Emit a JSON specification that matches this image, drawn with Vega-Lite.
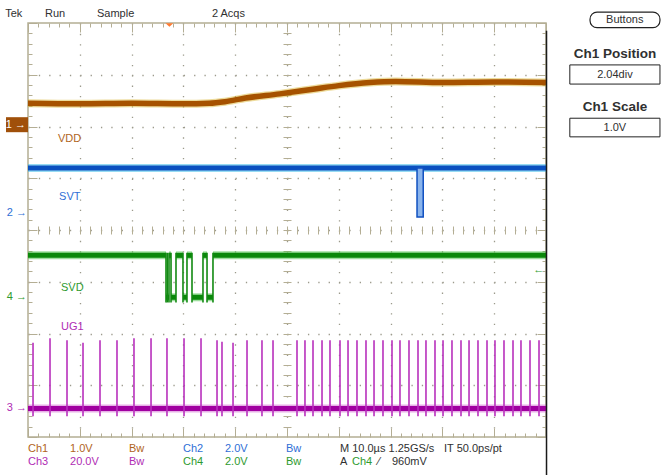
{
  "$schema": "https://vega.github.io/schema/vega-lite/v6.json",
  "width": 518,
  "height": 414,
  "autosize": {"type": "none"},
  "padding": {"left": 28, "top": 23, "right": 117, "bottom": 38},
  "background": "white",
  "config": {"view": {"stroke": "#b4ae94", "strokeWidth": 1.5}},
  "datasets": {
    "vdd": [
      {"x": 0, "y": 6.45}, {"x": 1, "y": 6.44}, {"x": 2, "y": 6.45}, {"x": 3, "y": 6.44},
      {"x": 3.5, "y": 6.45}, {"x": 3.8, "y": 6.48}, {"x": 4.2, "y": 6.55}, {"x": 4.86, "y": 6.63},
      {"x": 5.5, "y": 6.72}, {"x": 6.0, "y": 6.79}, {"x": 6.6, "y": 6.85}, {"x": 7.1, "y": 6.87},
      {"x": 8, "y": 6.85}, {"x": 9, "y": 6.86}, {"x": 10, "y": 6.85}
    ],
    "bands": [
      {"ch": "SVT", "x": 0, "x2": 10, "y": 5.2},
      {"ch": "UG1", "x": 0, "x2": 10, "y": 0.55},
      {"ch": "SVD", "x": 0, "x2": 2.664, "y": 3.51},
      {"ch": "SVD", "x": 2.664, "x2": 2.722, "y": 2.7},
      {"ch": "SVD", "x": 2.722, "x2": 2.761, "y": 3.51},
      {"ch": "SVD", "x": 2.761, "x2": 2.857, "y": 2.7},
      {"ch": "SVD", "x": 2.857, "x2": 2.992, "y": 3.51},
      {"ch": "SVD", "x": 2.992, "x2": 3.069, "y": 2.7},
      {"ch": "SVD", "x": 3.069, "x2": 3.166, "y": 3.51},
      {"ch": "SVD", "x": 3.166, "x2": 3.378, "y": 2.7},
      {"ch": "SVD", "x": 3.378, "x2": 3.456, "y": 3.51},
      {"ch": "SVD", "x": 3.456, "x2": 3.571, "y": 2.7},
      {"ch": "SVD", "x": 3.571, "x2": 10, "y": 3.51}
    ],
    "edges": [
      {"x": 2.664}, {"x": 2.69}, {"x": 2.722}, {"x": 2.761}, {"x": 2.857}, {"x": 2.992},
      {"x": 3.069}, {"x": 3.166}, {"x": 3.378}, {"x": 3.456}, {"x": 3.571}
    ],
    "spikes": [
      {"x": 0.097, "top": 1.82}, {"x": 0.425, "top": 1.91}, {"x": 0.753, "top": 1.87}, {"x": 1.062, "top": 1.82},
      {"x": 1.39, "top": 1.87}, {"x": 1.718, "top": 1.87}, {"x": 2.046, "top": 1.91}, {"x": 2.375, "top": 1.91},
      {"x": 2.683, "top": 1.91}, {"x": 3.012, "top": 1.91}, {"x": 3.34, "top": 1.91}, {"x": 3.649, "top": 1.87},
      {"x": 3.745, "top": 1.84}, {"x": 3.958, "top": 1.82}, {"x": 4.228, "top": 1.87}, {"x": 4.517, "top": 1.87},
      {"x": 4.73, "top": 1.87}, {"x": 5.193, "top": 1.87}, {"x": 5.347, "top": 1.87}, {"x": 5.502, "top": 1.87},
      {"x": 5.676, "top": 1.87}, {"x": 5.83, "top": 1.87}, {"x": 6.023, "top": 1.87}, {"x": 6.178, "top": 1.87},
      {"x": 6.351, "top": 1.87}, {"x": 6.525, "top": 1.87}, {"x": 6.68, "top": 1.87}, {"x": 6.853, "top": 1.87},
      {"x": 7.027, "top": 1.87}, {"x": 7.181, "top": 1.87}, {"x": 7.355, "top": 1.87}, {"x": 7.529, "top": 1.87},
      {"x": 7.683, "top": 1.87}, {"x": 7.857, "top": 1.87}, {"x": 8.012, "top": 1.87}, {"x": 8.185, "top": 1.87},
      {"x": 8.359, "top": 1.87}, {"x": 8.514, "top": 1.87}, {"x": 8.687, "top": 1.87}, {"x": 8.861, "top": 1.87},
      {"x": 9.015, "top": 1.87}, {"x": 9.189, "top": 1.87}, {"x": 9.363, "top": 1.87}, {"x": 9.517, "top": 1.87},
      {"x": 9.691, "top": 1.87}, {"x": 9.865, "top": 1.87}
    ],
    "dips": [{"x": 7.51, "x2": 7.63, "y": 5.2, "y2": 4.25}],
    "markerBox": [{"x": -0.425, "x2": 0, "y": 6.18, "y2": 5.89}],
    "buttonBox": [{"x": 10.85, "x2": 12.2, "y": 8.21, "y2": 7.91}],
    "valueBoxes": [
      {"x": 10.46, "x2": 12.2, "y": 7.19, "y2": 6.82},
      {"x": 10.46, "x2": 12.2, "y": 6.16, "y2": 5.8}
    ],
    "textLeft": [
      {"t": "Tek", "x": -0.44, "y": 8.17, "g": "dark"},
      {"t": "Run", "x": 0.328, "y": 8.17, "g": "dark"},
      {"t": "Sample", "x": 1.332, "y": 8.17, "g": "dark"},
      {"t": "2 Acqs", "x": 3.55, "y": 8.17, "g": "dark"},
      {"t": "VDD", "x": 0.579, "y": 5.76, "g": "ch1"},
      {"t": "SVT", "x": 0.6, "y": 4.63, "g": "ch2"},
      {"t": "SVD", "x": 0.637, "y": 2.87, "g": "ch4"},
      {"t": "UG1", "x": 0.637, "y": 2.12, "g": "ch3"},
      {"t": "Ch1", "x": 0, "y": -0.23, "g": "ch1"},
      {"t": "1.0V", "x": 0.811, "y": -0.23, "g": "ch1"},
      {"t": "Bw", "x": 1.95, "y": -0.23, "g": "ch1"},
      {"t": "Ch2", "x": 2.992, "y": -0.23, "g": "ch2"},
      {"t": "2.0V", "x": 3.803, "y": -0.23, "g": "ch2"},
      {"t": "Bw", "x": 4.981, "y": -0.23, "g": "ch2"},
      {"t": "M 10.0µs 1.25GS/s", "x": 6.023, "y": -0.23, "g": "dark"},
      {"t": "IT 50.0ps/pt", "x": 8.031, "y": -0.23, "g": "dark"},
      {"t": "Ch3", "x": 0, "y": -0.49, "g": "ch3"},
      {"t": "20.0V", "x": 0.811, "y": -0.49, "g": "ch3"},
      {"t": "Bw", "x": 1.95, "y": -0.49, "g": "ch3"},
      {"t": "Ch4", "x": 2.992, "y": -0.49, "g": "ch4"},
      {"t": "2.0V", "x": 3.803, "y": -0.49, "g": "ch4"},
      {"t": "Bw", "x": 4.981, "y": -0.49, "g": "ch4"},
      {"t": "A", "x": 6.023, "y": -0.49, "g": "dark"},
      {"t": "Ch4", "x": 6.255, "y": -0.49, "g": "ch4"},
      {"t": "⁄", "x": 6.757, "y": -0.49, "g": "dark"},
      {"t": "960mV", "x": 7.027, "y": -0.49, "g": "dark"}
    ],
    "textRight": [
      {"t": "2 →", "x": -0.02, "y": 4.33, "g": "ch2"},
      {"t": "4 →", "x": -0.02, "y": 2.705, "g": "ch4"},
      {"t": "3 →", "x": -0.02, "y": 0.56, "g": "ch3"},
      {"t": "1 →", "x": -0.04, "y": 6.03, "g": "white"}
    ],
    "textCenter": [
      {"t": "Buttons", "x": 11.52, "y": 8.06, "g": "dark"},
      {"t": "2.04div", "x": 11.33, "y": 7.0, "g": "dark"},
      {"t": "1.0V", "x": 11.33, "y": 5.97, "g": "dark"},
      {"t": "←", "x": 9.86, "y": 3.23, "g": "ch4"}
    ],
    "textBold": [
      {"t": "Ch1 Position", "x": 11.33, "y": 7.4, "g": "dark"},
      {"t": "Ch1 Scale", "x": 11.33, "y": 6.38, "g": "dark"}
    ]
  },
  "resolve": {"axis": {"x": "independent", "y": "independent"}},
  "layer": [
    {
      "data": {"name": "vdd"},
      "mark": {"type": "line", "strokeWidth": 8, "opacity": 0.45, "color": "#d8b020", "interpolate": "monotone"},
      "encoding": {
        "x": {"field": "x", "type": "quantitative", "scale": {"domain": [0, 10], "nice": false, "zero": false},
          "axis": {"orient": "bottom", "title": null, "labels": false, "domain": false,
            "values": [0,0.2,0.4,0.6,0.8,1,1.2,1.4,1.6,1.8,2,2.2,2.4,2.6,2.8,3,3.2,3.4,3.6,3.8,4,4.2,4.4,4.6,4.8,5,5.2,5.4,5.6,5.8,6,6.2,6.4,6.6,6.8,7,7.2,7.4,7.6,7.8,8,8.2,8.4,8.6,8.8,9,9.2,9.4,9.6,9.8,10],
            "tickColor": "#b4ae94", "tickWidth": 1,
            "tickSize": {"condition": {"test": "datum.value % 1 === 0", "value": -9}, "value": -4},
            "grid": true, "gridColor": "#9c9a8c", "gridWidth": 1.3, "gridDash": [1.3, 9.05],
            "gridOpacity": {"condition": {"test": "datum.value % 1 === 0 && datum.value > 0 && datum.value < 10", "value": 1}, "value": 0}}},
        "y": {"field": "y", "type": "quantitative", "scale": {"domain": [0, 8], "nice": false, "zero": false},
          "axis": {"orient": "left", "title": null, "labels": false, "domain": false,
            "values": [0,0.2,0.4,0.6,0.8,1,1.2,1.4,1.6,1.8,2,2.2,2.4,2.6,2.8,3,3.2,3.4,3.6,3.8,4,4.2,4.4,4.6,4.8,5,5.2,5.4,5.6,5.8,6,6.2,6.4,6.6,6.8,7,7.2,7.4,7.6,7.8,8],
            "tickColor": "#b4ae94", "tickWidth": 1,
            "tickSize": {"condition": {"test": "datum.value % 1 === 0", "value": -9}, "value": -4},
            "grid": true, "gridColor": "#9c9a8c", "gridWidth": 1.3, "gridDash": [1.3, 9.05],
            "gridOpacity": {"condition": {"test": "datum.value % 1 === 0 && datum.value > 0 && datum.value < 8", "value": 1}, "value": 0}}}
      }
    },
    {
      "data": {"name": "bands"},
      "mark": {"type": "rule", "strokeWidth": 8, "opacity": 0.5},
      "encoding": {
        "x": {"field": "x", "type": "quantitative",
          "axis": {"orient": "top", "title": null, "labels": false, "domain": false, "grid": false,
            "values": [0,0.2,0.4,0.6,0.8,1,1.2,1.4,1.6,1.8,2,2.2,2.4,2.6,2.8,3,3.2,3.4,3.6,3.8,4,4.2,4.4,4.6,4.8,5,5.2,5.4,5.6,5.8,6,6.2,6.4,6.6,6.8,7,7.2,7.4,7.6,7.8,8,8.2,8.4,8.6,8.8,9,9.2,9.4,9.6,9.8,10],
            "tickColor": "#b4ae94", "tickWidth": 1,
            "tickSize": {"condition": {"test": "datum.value % 1 === 0", "value": -9}, "value": -4}}},
        "x2": {"field": "x2"},
        "y": {"field": "y", "type": "quantitative",
          "axis": {"orient": "right", "title": null, "labels": false, "domain": false, "grid": false,
            "values": [0,0.2,0.4,0.6,0.8,1,1.2,1.4,1.6,1.8,2,2.2,2.4,2.6,2.8,3,3.2,3.4,3.6,3.8,4,4.2,4.4,4.6,4.8,5,5.2,5.4,5.6,5.8,6,6.2,6.4,6.6,6.8,7,7.2,7.4,7.6,7.8,8],
            "tickColor": "#b4ae94", "tickWidth": 1,
            "tickSize": {"condition": {"test": "datum.value % 1 === 0", "value": -9}, "value": -4}}},
        "stroke": {"field": "ch", "type": "nominal", "legend": null,
          "scale": {"domain": ["SVT", "SVD", "UG1"], "range": ["#30b8e8", "#40c040", "#d060d0"]}}
      }
    },
    {
      "data": {"name": "bands"},
      "mark": {"type": "rule", "strokeWidth": 5},
      "encoding": {
        "x": {"field": "x", "type": "quantitative",
          "axis": {"orient": "bottom", "offset": -211, "title": null, "labels": false, "domain": false, "grid": false,
            "values": [0.2,0.4,0.6,0.8,1,1.2,1.4,1.6,1.8,2,2.2,2.4,2.6,2.8,3,3.2,3.4,3.6,3.8,4,4.2,4.4,4.6,4.8,5,5.2,5.4,5.6,5.8,6,6.2,6.4,6.6,6.8,7,7.2,7.4,7.6,7.8,8,8.2,8.4,8.6,8.8,9,9.2,9.4,9.6,9.8],
            "tickColor": "#b4ae94", "tickWidth": 1, "tickSize": 8}},
        "x2": {"field": "x2"},
        "y": {"field": "y", "type": "quantitative",
          "axis": {"orient": "left", "offset": -263, "title": null, "labels": false, "domain": false, "grid": false,
            "values": [0.2,0.4,0.6,0.8,1,1.2,1.4,1.6,1.8,2,2.2,2.4,2.6,2.8,3,3.2,3.4,3.6,3.8,4,4.2,4.4,4.6,4.8,5,5.2,5.4,5.6,5.8,6,6.2,6.4,6.6,6.8,7,7.2,7.4,7.6,7.8],
            "tickColor": "#b4ae94", "tickWidth": 1, "tickSize": 8}},
        "color": {"field": "ch", "type": "nominal", "legend": null,
          "scale": {"domain": ["SVT", "SVD", "UG1"], "range": ["#0a50c0", "#0a880a", "#a000a0"]}}
      }
    },
    {
      "data": {"name": "vdd"},
      "mark": {"type": "line", "strokeWidth": 5.5, "color": "#a65200", "interpolate": "monotone"},
      "encoding": {
        "x": {"field": "x", "type": "quantitative", "axis": null},
        "y": {"field": "y", "type": "quantitative", "axis": null}
      }
    },
    {
      "data": {"name": "edges"},
      "mark": {"type": "rule", "strokeWidth": 1.6, "color": "#128a12"},
      "encoding": {
        "x": {"field": "x", "type": "quantitative", "axis": null},
        "y": {"datum": 2.6, "type": "quantitative", "axis": null},
        "y2": {"datum": 3.56}
      }
    },
    {
      "data": {"name": "spikes"},
      "mark": {"type": "rule", "strokeWidth": 1.6, "color": "#b830bc"},
      "encoding": {
        "x": {"field": "x", "type": "quantitative", "axis": null},
        "y": {"field": "top", "type": "quantitative", "axis": null},
        "y2": {"datum": 0.4}
      }
    },
    {
      "data": {"name": "dips"},
      "mark": {"type": "rect", "fill": "#8ab4ec", "stroke": "#1050c0", "strokeWidth": 1.5},
      "encoding": {
        "x": {"field": "x", "type": "quantitative", "axis": null},
        "x2": {"field": "x2"},
        "y": {"field": "y", "type": "quantitative", "axis": null},
        "y2": {"field": "y2"}
      }
    },
    {
      "data": {"values": [{}]},
      "mark": {"type": "point", "shape": "M -1 -0.45 L 1 -0.45 L 0 0.45 Z", "size": 60, "filled": true, "color": "#ff7a30", "opacity": 1},
      "encoding": {
        "x": {"datum": 2.73, "type": "quantitative", "axis": null},
        "y": {"datum": 7.96, "type": "quantitative", "axis": null}
      }
    },
    {
      "data": {"values": [{}]},
      "mark": {"type": "rule", "strokeWidth": 1.5, "color": "#1a1a1a"},
      "encoding": {
        "x": {"datum": 10.01, "type": "quantitative", "axis": null},
        "y": {"datum": 7.85, "type": "quantitative", "axis": null},
        "y2": {"datum": -0.74}
      }
    },
    {
      "data": {"name": "markerBox"},
      "mark": {"type": "rect", "fill": "#a0500a"},
      "encoding": {
        "x": {"field": "x", "type": "quantitative", "axis": null},
        "x2": {"field": "x2"},
        "y": {"field": "y", "type": "quantitative", "axis": null},
        "y2": {"field": "y2"}
      }
    },
    {
      "data": {"name": "buttonBox"},
      "mark": {"type": "rect", "fill": "white", "stroke": "#222222", "strokeWidth": 1.2, "cornerRadius": 7},
      "encoding": {
        "x": {"field": "x", "type": "quantitative", "axis": null},
        "x2": {"field": "x2"},
        "y": {"field": "y", "type": "quantitative", "axis": null},
        "y2": {"field": "y2"}
      }
    },
    {
      "data": {"name": "valueBoxes"},
      "mark": {"type": "rect", "fill": "white", "stroke": "#222222", "strokeWidth": 1},
      "encoding": {
        "x": {"field": "x", "type": "quantitative", "axis": null},
        "x2": {"field": "x2"},
        "y": {"field": "y", "type": "quantitative", "axis": null},
        "y2": {"field": "y2"}
      }
    },
    {
      "data": {"name": "textLeft"},
      "mark": {"type": "text", "align": "left", "baseline": "middle", "font": "Liberation Sans", "fontSize": 11},
      "encoding": {
        "x": {"field": "x", "type": "quantitative", "axis": null},
        "y": {"field": "y", "type": "quantitative", "axis": null},
        "text": {"field": "t"},
        "fill": {"field": "g", "type": "nominal", "legend": null,
          "scale": {"domain": ["ch1", "ch2", "ch3", "ch4", "dark", "white"], "range": ["#b0641c", "#2f6fd6", "#b02cb4", "#2e9a2e", "#303030", "#ffffff"]}}
      }
    },
    {
      "data": {"name": "textRight"},
      "mark": {"type": "text", "align": "right", "baseline": "middle", "font": "Liberation Sans", "fontSize": 11},
      "encoding": {
        "x": {"field": "x", "type": "quantitative", "axis": null},
        "y": {"field": "y", "type": "quantitative", "axis": null},
        "text": {"field": "t"},
        "fill": {"field": "g", "type": "nominal", "legend": null,
          "scale": {"domain": ["ch1", "ch2", "ch3", "ch4", "dark", "white"], "range": ["#b0641c", "#2f6fd6", "#b02cb4", "#2e9a2e", "#303030", "#ffffff"]}}
      }
    },
    {
      "data": {"name": "textCenter"},
      "mark": {"type": "text", "align": "center", "baseline": "middle", "font": "Liberation Sans", "fontSize": 11},
      "encoding": {
        "x": {"field": "x", "type": "quantitative", "axis": null},
        "y": {"field": "y", "type": "quantitative", "axis": null},
        "text": {"field": "t"},
        "fill": {"field": "g", "type": "nominal", "legend": null,
          "scale": {"domain": ["ch1", "ch2", "ch3", "ch4", "dark", "white"], "range": ["#b0641c", "#2f6fd6", "#b02cb4", "#2e9a2e", "#303030", "#ffffff"]}}
      }
    },
    {
      "data": {"name": "textBold"},
      "mark": {"type": "text", "align": "center", "baseline": "middle", "font": "Liberation Sans", "fontSize": 13.5, "fontWeight": "bold"},
      "encoding": {
        "x": {"field": "x", "type": "quantitative", "axis": null},
        "y": {"field": "y", "type": "quantitative", "axis": null},
        "text": {"field": "t"},
        "fill": {"field": "g", "type": "nominal", "legend": null,
          "scale": {"domain": ["ch1", "ch2", "ch3", "ch4", "dark", "white"], "range": ["#b0641c", "#2f6fd6", "#b02cb4", "#2e9a2e", "#303030", "#ffffff"]}}
      }
    }
  ]
}
